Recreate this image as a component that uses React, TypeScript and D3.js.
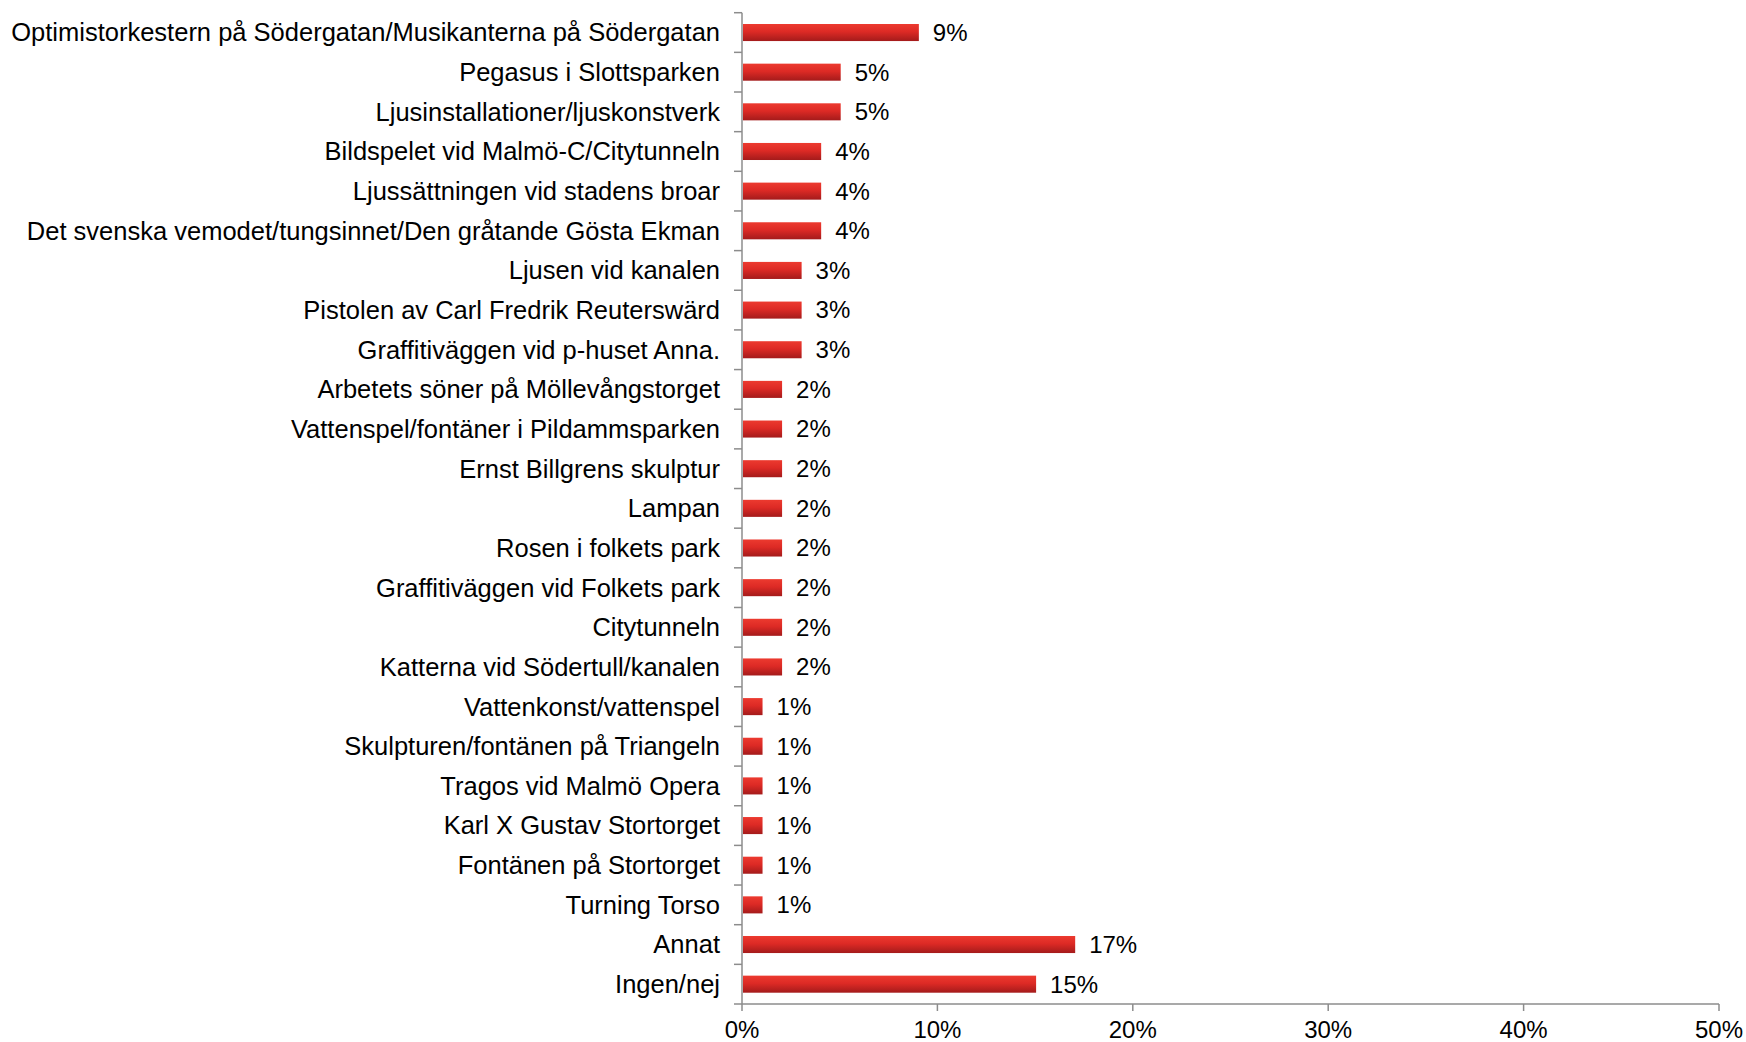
import React from 'react'
import * as d3 from 'd3'

const categories = [
  'Optimistorkestern på Södergatan/Musikanterna på Södergatan',
  'Pegasus i Slottsparken',
  'Ljusinstallationer/ljuskonstverk',
  'Bildspelet vid Malmö-C/Citytunneln',
  'Ljussättningen vid stadens broar',
  'Det svenska vemodet/tungsinnet/Den gråtande Gösta Ekman',
  'Ljusen vid kanalen',
  'Pistolen av Carl Fredrik Reuterswärd',
  'Graffitiväggen vid p-huset Anna.',
  'Arbetets söner på Möllevångstorget',
  'Vattenspel/fontäner i Pildammsparken',
  'Ernst Billgrens skulptur',
  'Lampan',
  'Rosen i folkets park',
  'Graffitiväggen vid Folkets park',
  'Citytunneln',
  'Katterna vid Södertull/kanalen',
  'Vattenkonst/vattenspel',
  'Skulpturen/fontänen på Triangeln',
  'Tragos vid Malmö Opera',
  'Karl X Gustav Stortorget',
  'Fontänen på Stortorget',
  'Turning Torso',
  'Annat',
  'Ingen/nej',
]
const values = [0.09, 0.05, 0.05, 0.04, 0.04, 0.04, 0.03, 0.03, 0.03, 0.02, 0.02, 0.02, 0.02, 0.02, 0.02, 0.02, 0.02, 0.01, 0.01, 0.01, 0.01, 0.01, 0.01, 0.17, 0.15]
const xTicks = [0, 0.1, 0.2, 0.3, 0.4, 0.5]

const W = 1746
const H = 1042
const x0 = 742
const font = 'Arial, "Liberation Sans", sans-serif'

const App = () => {
  const x = d3.scaleLinear().domain([0, 0.5]).range([x0, 1719])
  const y = d3.scaleBand().domain(categories).range([12.7, 1004]).paddingInner(0).paddingOuter(0)
  const barH = y.bandwidth() * 0.43
  const fmt = d3.format('.0%')
  const axisColor = '#8c8c8c'

  return (
    <div style={{ position: 'absolute', left: 0, top: 0 }}>
      <svg width={W} height={H} style={{ display: 'block' }}>
        <defs>
          <linearGradient id="barGrad" x1="0" y1="0" x2="0" y2="1">
            <stop offset="0%" stopColor="#ec3a2f" />
            <stop offset="45%" stopColor="#dd2a25" />
            <stop offset="100%" stopColor="#a41b1b" />
          </linearGradient>
        </defs>
        {categories.map((c, i) => {
          const yc = (y(c) as number) + y.bandwidth() / 2
          return (
            <g key={c}>
              <rect
                x={x(0) + 1}
                y={yc - barH / 2}
                width={x(values[i]) - x(0)}
                height={barH}
                fill="url(#barGrad)"
              />
              <text
                x={720}
                y={yc}
                dy="0.35em"
                textAnchor="end"
                fontFamily={font}
                fontSize={25.5}
                fill="#000"
              >
                {c}
              </text>
              <text
                x={x(values[i]) + 15}
                y={yc}
                dy="0.35em"
                fontFamily={font}
                fontSize={24}
                fill="#000"
              >
                {fmt(values[i])}
              </text>
            </g>
          )
        })}
        {/* y axis */}
        <line x1={x0} x2={x0} y1={12.7} y2={1004} stroke={axisColor} strokeWidth={1.5} />
        {[...categories.map(c => y(c) as number), 1004].map((t, i) => (
          <line key={i} x1={x0 - 8} x2={x0} y1={t} y2={t} stroke={axisColor} strokeWidth={1.5} />
        ))}
        {/* x axis */}
        <line x1={x0} x2={x(0.5)} y1={1004} y2={1004} stroke={axisColor} strokeWidth={1.5} />
        {xTicks.map(t => (
          <g key={t}>
            <line x1={x(t)} x2={x(t)} y1={1004} y2={1011} stroke={axisColor} strokeWidth={1.5} />
            <text
              x={x(t)}
              y={1038}
              textAnchor="middle"
              fontFamily={font}
              fontSize={24}
              fill="#000"
            >
              {fmt(t)}
            </text>
          </g>
        ))}
      </svg>
    </div>
  )
}

export default App
